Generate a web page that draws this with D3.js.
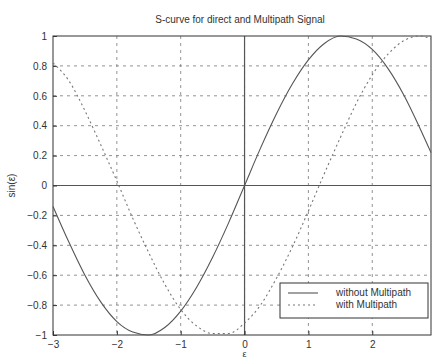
<!DOCTYPE html>
<html>
<head>
<meta charset="utf-8">
<script src="https://cdn.jsdelivr.net/npm/d3@7"></script>
<style>
  body { margin: 0; background: #fff; }
  text { font-family: "Liberation Sans", Arial, sans-serif; fill: #333; }
</style>
</head>
<body>
<script>
const xs = [-3, -2.75, -2.5, -2.25, -2, -1.75, -1.5, -1.25, -1, -0.75, -0.5, -0.25,
            0, 0.25, 0.5, 0.75, 1, 1.25, 1.5, 1.75, 2, 2.25, 2.5, 2.75, 2.92];
const direct = [-0.14, -0.38, -0.6, -0.78, -0.91, -0.98, -1.0, -0.95, -0.84, -0.68, -0.48, -0.25,
                0.0, 0.25, 0.48, 0.68, 0.84, 0.95, 1.0, 0.98, 0.91, 0.78, 0.6, 0.38, 0.22];
const multipath = [0.82, 0.7, 0.5, 0.27, 0.03, -0.22, -0.45, -0.66, -0.83, -0.94, -0.99, -0.99,
                   -0.92, -0.8, -0.62, -0.41, -0.17, 0.08, 0.32, 0.55, 0.74, 0.88, 0.97, 1.0, 0.98];
const xTicks = [-3, -2, -1, 0, 1, 2];
const yTicks = [-1, -0.8, -0.6, -0.4, -0.2, 0, 0.2, 0.4, 0.6, 0.8, 1];
const legendLabels = ["without Multipath", "with Multipath"];

const width = 433, height = 360;
const margin = { left: 53, right: 2, top: 36, bottom: 25 };

const svg = d3.select("body").append("svg")
    .attr("width", width)
    .attr("height", height);

const x = d3.scaleLinear().domain([-3, 2.92]).range([margin.left, width - margin.right]);
const y = d3.scaleLinear().domain([-1, 1]).range([height - margin.bottom, margin.top]);

// grid
svg.append("g").selectAll("line").data(xTicks.slice(1))
    .enter().append("line")
    .attr("x1", d => x(d)).attr("x2", d => x(d))
    .attr("y1", y(1)).attr("y2", y(-1))
    .attr("stroke", "#777").attr("stroke-width", 0.8)
    .attr("stroke-dasharray", "3,4");
svg.append("g").selectAll("line").data(yTicks.slice(1, -1))
    .enter().append("line")
    .attr("x1", x(-3)).attr("x2", x(2.92))
    .attr("y1", d => y(d)).attr("y2", d => y(d))
    .attr("stroke", "#777").attr("stroke-width", 0.8)
    .attr("stroke-dasharray", "3,4");

// zero lines
svg.append("line")
    .attr("x1", x(0)).attr("x2", x(0)).attr("y1", y(1)).attr("y2", y(-1))
    .attr("stroke", "#555").attr("stroke-width", 1.2);
svg.append("line")
    .attr("x1", x(-3)).attr("x2", x(2.92)).attr("y1", y(0)).attr("y2", y(0))
    .attr("stroke", "#555").attr("stroke-width", 1.2);

// frame
svg.append("rect")
    .attr("x", x(-3)).attr("y", y(1))
    .attr("width", x(2.92) - x(-3)).attr("height", y(-1) - y(1))
    .attr("fill", "none").attr("stroke", "#333").attr("stroke-width", 1);

// axes
const xAxis = svg.append("g")
    .attr("transform", `translate(0,${y(-1)})`)
    .call(d3.axisBottom(x).tickValues(xTicks).tickSize(-4).tickPadding(6).tickFormat(d3.format("d")));
const yAxis = svg.append("g")
    .attr("transform", `translate(${x(-3)},0)`)
    .call(d3.axisLeft(y).tickValues(yTicks).tickSize(-4).tickPadding(6)
        .tickFormat(d => d === 0 ? "0" : d3.format("")(d)));
[xAxis, yAxis].forEach(a => {
    a.select(".domain").remove();
    a.selectAll("line").attr("stroke", "#333");
    a.selectAll("text").style("font-size", "10px").attr("fill", "#333");
});

// curves
const line = d3.line().x((d, i) => x(xs[i])).y(d => y(d)).curve(d3.curveMonotoneX);
svg.append("path").datum(direct)
    .attr("d", line).attr("fill", "none")
    .attr("stroke", "#555").attr("stroke-width", 1.1);
svg.append("path").datum(multipath)
    .attr("d", line).attr("fill", "none")
    .attr("stroke", "#777").attr("stroke-width", 1.1)
    .attr("stroke-dasharray", "2,3");

// title and labels
svg.append("text").attr("x", 240).attr("y", 23)
    .attr("text-anchor", "middle").style("font-size", "10px")
    .text("S-curve for direct and Multipath Signal");
svg.append("text").attr("x", x(0)).attr("y", 357)
    .attr("text-anchor", "middle").style("font-size", "9px")
    .text("ε");
svg.append("text")
    .attr("transform", `translate(15,${y(0)}) rotate(-90)`)
    .attr("text-anchor", "middle").style("font-size", "10px")
    .text("sin(ε)");

// legend
const lg = svg.append("g").attr("transform", "translate(280,283)");
lg.append("rect").attr("width", 148).attr("height", 35)
    .attr("fill", "#fff").attr("stroke", "#333").attr("stroke-width", 1);
legendLabels.forEach((label, i) => {
    lg.append("line")
        .attr("x1", 8).attr("x2", 38).attr("y1", 10 + i * 12).attr("y2", 10 + i * 12)
        .attr("stroke", i === 0 ? "#555" : "#777").attr("stroke-width", 1.1)
        .attr("stroke-dasharray", i === 0 ? null : "2,3");
    lg.append("text").attr("x", 56).attr("y", 13 + i * 12)
        .style("font-size", "10px").text(label);
});
</script>
</body>
</html>
